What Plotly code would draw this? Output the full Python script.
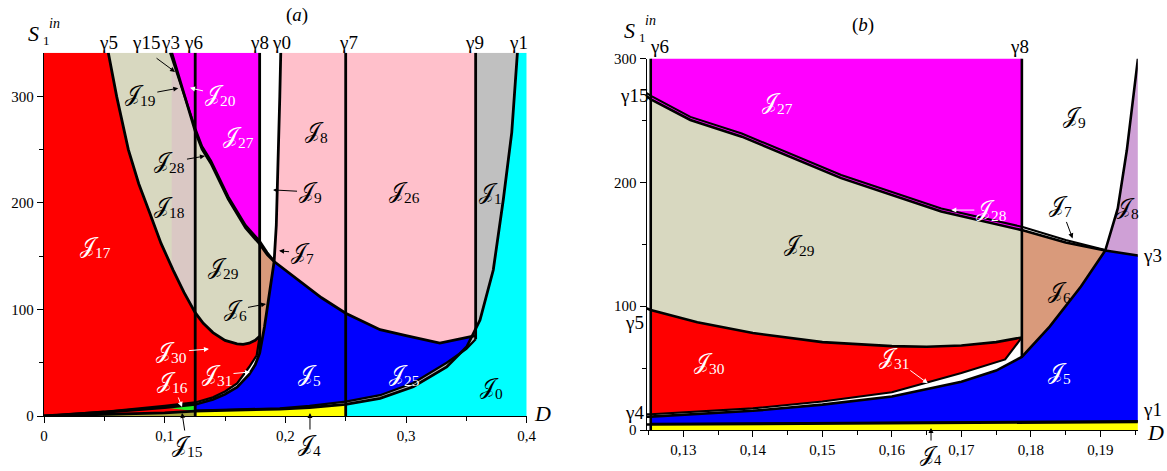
import numpy as np
import plotly.graph_objects as go

# ---------------- data: boundary curves (D, S1in) ----------------
G0_D = [0, 0.05, 0.1, 0.1253, 0.14, 0.15, 0.16, 0.17, 0.175, 0.1787, 0.1827, 0.1872, 0.1896, 0.1907, 0.1925, 0.1938, 0.1954, 0.1962]
G0_S = [0, 3.5, 8, 10.8, 15.5, 20.5, 27, 39, 48, 59, 83.5, 116, 136, 145, 179, 226, 300, 341]

G4_D = [0, 0.05, 0.1, 0.1253, 0.14, 0.15, 0.16, 0.17, 0.1763, 0.1787]
G4_S = [0, 4, 9.5, 12.7, 17.5, 23, 30.5, 46, 57, 74.8]

G1_D = [0, 0.05, 0.1, 0.1253, 0.16, 0.1954, 0.22, 0.25, 0.2785, 0.306, 0.3337, 0.3503, 0.3613, 0.3723, 0.3806, 0.3876, 0.3923]
G1_S = [0, 1.2, 3, 4.5, 5.3, 6.5, 8, 11, 16.6, 27.5, 46, 65, 90, 137, 203, 266, 341]

G2_D = [0.1253, 0.16, 0.1954, 0.22, 0.25, 0.2785, 0.306, 0.3337, 0.35, 0.3577]
G2_S = [5, 5.8, 7.2, 9.5, 13.5, 19.5, 31, 50, 63, 72]

G3_D = [0.1058, 0.116, 0.1254, 0.131, 0.1384, 0.1527, 0.1671, 0.1787, 0.185, 0.1907, 0.1954, 0.21, 0.23, 0.25, 0.2785, 0.3, 0.328, 0.3577]
G3_S = [341, 303, 267, 250.5, 237, 203.5, 176.5, 161.5, 151.5, 145, 141, 128, 111, 96.5, 81, 75.5, 68.5, 75.5]

G15_D = [0.1045, 0.115, 0.1254, 0.131, 0.1384, 0.1527, 0.1671, 0.1787, 0.185, 0.1907]
G15_S = [341, 305, 269.8, 253, 239.6, 206, 179, 164.2, 153.5, 145.5]

G5_D = [0.0533, 0.0602, 0.0699, 0.0785, 0.0878, 0.097, 0.107, 0.116, 0.1253, 0.132, 0.14, 0.15, 0.16, 0.165, 0.17, 0.175, 0.1787]
G5_S = [341, 300, 250, 218, 190, 162, 137, 116, 97, 87, 78.3, 71, 67.8, 67.3, 68.3, 71, 74.8]

# vertical boundaries (D values)
G6 = 0.1253
G7 = 0.25
G8 = 0.1787
G9 = 0.3577
X03 = 0.1907        # gamma0 / gamma3 crossing
J16_START = 0.1

# axes / ticks
XL_TICKS = [0, 0.1, 0.2, 0.3, 0.4]
XL_TEXT = ["0", "0,1", "0,2", "0,3", "0,4"]
XR_TICKS = [0.13, 0.14, 0.15, 0.16, 0.17, 0.18, 0.19]
XR_TEXT = ["0,13", "0,14", "0,15", "0,16", "0,17", "0,18", "0,19"]
Y_TICKS = [0, 100, 200, 300]
Y_TEXT = ["0", "100", "200", "300"]

# ---------------- styles ----------------
W, H = 1167, 471
XL_RANGE = [0, 0.4]
YL_RANGE = [0, 341]
XR_RANGE = [0.12472, 0.19538]
YR_RANGE = [0, 300]
TOP = 341
FONT = "Liberation Serif, DejaVu Serif, serif"
C = dict(red="#ff0000", tan="#d8d8c0", mag="#ff00ff", pink="#ffc0cb", gray="#c0c0c0",
         cyan="#00ffff", blue="#0000ff", yellow="#ffff00", brown="#d99a7b", green="#22ee22",
         purple="#cfa0d6", j19="#dac8c4", olive="#a4a43a")


def seg(D, S, a, b):
    D = np.asarray(D, float); S = np.asarray(S, float)
    m = (D > a) & (D < b)
    xs = [a] + list(D[m]) + [b]
    ys = [float(np.interp(a, D, S))] + list(S[m]) + [float(np.interp(b, D, S))]
    return xs, ys


def rev(p):
    return p[0][::-1], p[1][::-1]


def pt(x, y):
    return [x], [y]


def poly(*pieces):
    xs, ys = [], []
    for px, py in pieces:
        xs += list(px); ys += list(py)
    return xs, ys


def at(D, S, x):
    return float(np.interp(x, D, S))


fig = go.Figure()


def fill(p, color, ax):
    xa, ya = ax
    fig.add_trace(go.Scatter(x=p[0], y=p[1], fill="toself", fillcolor=color, mode="lines",
                             line=dict(width=0), hoverinfo="skip", showlegend=False,
                             xaxis=xa, yaxis=ya))


def line(x, y, ax, w=2.6):
    xa, ya = ax
    fig.add_trace(go.Scatter(x=x, y=y, mode="lines", line=dict(color="black", width=w),
                             hoverinfo="skip", showlegend=False, xaxis=xa, yaxis=ya))


L = ("x", "y")
R = ("x2", "y2")

# ---------- left panel fills ----------
fill(poly(seg(G1_D, G1_S, 0, G6), pt(G6, at(G4_D, G4_S, G6)), seg(G4_D, G4_S, G6, G8),
          rev(seg(G5_D, G5_S, G5_D[0], G8)), pt(0, TOP)), C["red"], L)
fill(poly(pt(0, 0), seg(G1_D, G1_S, 0, G6), pt(G6, 0)), C["olive"], L)
fill(poly(seg(G0_D, G0_S, J16_START, G6), pt(G6, at(G1_D, G1_S, G6))), C["green"], L)
fill(poly(seg(G5_D, G5_S, G5_D[0], G8), pt(G8, at(G3_D, G3_S, G8)),
          rev(seg(G3_D, G3_S, G3_D[0], G8))), C["tan"], L)
fill(poly(seg(G5_D, G5_S, G3_D[0], G6), rev(seg(G3_D, G3_S, G3_D[0], G6))), C["j19"], L)
fill(poly(seg(G3_D, G3_S, G3_D[0], G8), pt(G8, TOP)), C["mag"], L)
fill(poly(pt(G8, at(G0_D, G0_S, G8)), seg(G3_D, G3_S, G8, X03),
          rev(seg(G0_D, G0_S, G8, X03))), C["brown"], L)
fill(poly(seg(G2_D, G2_S, G6, G9), rev(seg(G3_D, G3_S, X03, G9)),
          rev(seg(G0_D, G0_S, G6, X03))), C["blue"], L)
fill(poly(pt(G6, 0), seg(G1_D, G1_S, G6, G7), pt(G7, 0)), C["yellow"], L)
fill(poly(pt(G7, 0), seg(G1_D, G1_S, G7, G1_D[-1]), pt(XL_RANGE[1], TOP), pt(XL_RANGE[1], 0)), C["cyan"], L)
fill(poly(seg(G2_D, G2_S, G7, G9), pt(G9, TOP), rev(seg(G1_D, G1_S, G7, G1_D[-1]))), C["gray"], L)
fill(poly(seg(G0_D, G0_S, X03, G0_D[-1]), pt(G9, TOP), rev(seg(G3_D, G3_S, X03, G9))), C["pink"], L)

# ---------- right panel fills ----------
fill(poly(seg(G4_D, G4_S, G6, G8), rev(seg(G5_D, G5_S, G6, G8))), C["red"], R)
fill(poly(seg(G5_D, G5_S, G6, G8), pt(G8, at(G3_D, G3_S, G8)), rev(seg(G3_D, G3_S, G6, G8))), C["tan"], R)
fill(poly(seg(G3_D, G3_S, G6, G8), pt(G8, TOP), pt(G6, TOP)), C["mag"], R)
fill(poly(pt(G8, at(G0_D, G0_S, G8)), seg(G3_D, G3_S, G8, X03),
          rev(seg(G0_D, G0_S, G8, X03))), C["brown"], R)
fill(poly(seg(G2_D, G2_S, G6, G9), rev(seg(G3_D, G3_S, X03, G9)),
          rev(seg(G0_D, G0_S, G6, X03))), C["blue"], R)
fill(poly(pt(G6, 0), seg(G1_D, G1_S, G6, G7), pt(G7, 0)), C["yellow"], R)
fill(poly(seg(G0_D, G0_S, X03, G0_D[-1]), pt(G9, TOP), rev(seg(G3_D, G3_S, X03, G9))), C["purple"], R)

# ---------- boundary curves ----------
for ax, w in ((L, 2.8), (R, 2.6)):
    line(G0_D, G0_S, ax, w)
    line(G4_D, G4_S, ax, w * 0.8)
    line(G1_D, G1_S, ax, w)
    line(G2_D, G2_S, ax, w * 0.8)
    line(G3_D, G3_S, ax, w)
    line(G15_D, G15_S, ax, w * 0.8)
    line(G5_D, G5_S, ax, w)
    line([G6, G6], [0, TOP], ax, w)
    line([G7, G7], [0, TOP], ax, w)
    line([G8, G8], [at(G0_D, G0_S, G8), TOP], ax, w)
    line([G9, G9], [at(G2_D, G2_S, G9), TOP], ax, w)

# ---------- layout ----------
tickfont = dict(family=FONT, size=15, color="black")
axis_common = dict(showgrid=False, zeroline=False, showline=True, linecolor="black", linewidth=1.4,
                   ticks="outside", ticklen=6, tickwidth=1.2, tickcolor="black", tickfont=tickfont,
                   fixedrange=True, automargin=False)
fig.update_layout(
    width=W, height=H, margin=dict(l=0, r=0, t=0, b=0, pad=0, autoexpand=False),
    paper_bgcolor="white", plot_bgcolor="white", showlegend=False,
    xaxis=dict(domain=[44 / W, 526.7 / W], range=XL_RANGE, anchor="y", tickvals=XL_TICKS, ticktext=XL_TEXT,
               minor=dict(tickvals=[0.05, 0.15, 0.25, 0.35], ticklen=4, ticks="outside", tickcolor="black"),
               **axis_common),
    yaxis=dict(domain=[1 - 416 / H, 1 - 52.7 / H], range=YL_RANGE, anchor="x", tickvals=Y_TICKS, ticktext=Y_TEXT,
               minor=dict(tickvals=[50, 150, 250], ticklen=4, ticks="outside", tickcolor="black"),
               **axis_common),
    xaxis2=dict(domain=[646.7 / W, 1137.8 / W], range=XR_RANGE, anchor="y2", tickvals=XR_TICKS, ticktext=XR_TEXT,
                minor=dict(tickvals=[0.125, 0.135, 0.145, 0.155, 0.165, 0.175, 0.185, 0.195], ticklen=4,
                           ticks="outside", tickcolor="black"),
                **axis_common),
    yaxis2=dict(domain=[1 - 430 / H, 1 - 58.7 / H], range=YR_RANGE, anchor="x2", tickvals=Y_TICKS, ticktext=Y_TEXT,
                minor=dict(tickvals=[50, 150, 250], ticklen=4, ticks="outside", tickcolor="black"),
                **axis_common),
)

J = "\U0001D4A5"
ann = []
JS = 22


def lab(text, x, y, xref, yref, color="black", size=JS, pad=1):
    ann.append(dict(text=text, x=x, y=y, xref=xref, yref=yref, showarrow=False,
                    xanchor="center", yanchor="middle", borderpad=pad,
                    font=dict(family=FONT, size=size, color=color)))


def arr(text, x, y, xref, yref, ax, ay, color="black", size=JS):
    ann.append(dict(text=text, x=x, y=y, xref=xref, yref=yref, showarrow=True, ax=ax, ay=ay,
                    xanchor="center", yanchor="middle",
                    arrowhead=2, arrowsize=1, arrowwidth=1, arrowcolor=color,
                    font=dict(family=FONT, size=size, color=color)))


def Jn(n):
    return J + "<sub>" + str(n) + "</sub>"


# left panel labels
lab(Jn(17), 0.0423, 159, "x", "y", "white")
lab(Jn(18), 0.1044, 196.5, "x", "y")
arr(Jn(19), 0.1113, 307.7, "x", "y", -38, 7)
arr(Jn(20), 0.121, 308, "x", "y", 30, 7, "white")
lab(Jn(27), 0.161, 262, "x", "y", "white")
arr(Jn(28), 0.1334, 244, "x", "y", -35, 6)
lab(Jn(29), 0.1486, 138.7, "x", "y")
lab(Jn(8), 0.226, 267, "x", "y")
arr(Jn(9), 0.1898, 212.2, "x", "y", 37, 2)
lab(Jn(26), 0.299, 210, "x", "y")
lab(Jn(1), 0.3696, 209, "x", "y")
arr(Jn(7), 0.1948, 155, "x", "y", 23, 2)
arr(Jn(6), 0.184, 105.2, "x", "y", -31, 6)
arr(Jn(30), 0.1367, 62.9, "x", "y", -37, 3, "white")
arr(Jn(31), 0.1707, 41.3, "x", "y", -33, 3, "white")
arr(Jn(16), 0.1144, 8.5, "x", "y", -10, -25, "white")
lab(Jn(5), 0.2204, 38.5, "x", "y", "white")
lab(Jn(25), 0.299, 38.5, "x", "y", "white")
lab(Jn(0), 0.371, 26, "x", "y")
arr(Jn(15), 0.1144, 2.8, "x", "y", 5, 33)
arr(Jn(4), 0.2204, 2.8, "x", "y", 0, 32)

# right panel labels
lab(Jn(27), 0.1436, 264, "x2", "y2", "white")
lab(Jn(9), 0.1863, 253, "x2", "y2")
arr(Jn(28), 0.16855, 177.7, "x2", "y2", 40, 0, "white")
arr(Jn(7), 0.1860, 154.8, "x2", "y2", -12, -32)
lab(Jn(8), 0.1939, 179, "x2", "y2")
lab(Jn(29), 0.1467, 149.4, "x2", "y2")
lab(Jn(6), 0.1841, 111.7, "x2", "y2")
lab(Jn(30), 0.1337, 53.9, "x2", "y2", "white")
arr(Jn(31), 0.16517, 37.7, "x2", "y2", -34, -25, "white")
lab(Jn(5), 0.1841, 45.8, "x2", "y2", "white")
arr(Jn(4), 0.16563, 1.6, "x2", "y2", 0, 27, size=21)

# gamma labels, left panel top
GS = 19
ytop_l = 1 - 43 / H
for t, x in (("γ5", 0.0533), ("γ15", 0.0848), ("γ3", 0.1051), ("γ6", 0.1238), ("γ8", 0.1789),
             ("γ0", 0.1970), ("γ7", 0.2520), ("γ9", 0.3566), ("γ1", 0.3930)):
    lab(t, x, ytop_l, "x", "paper", size=GS)
arr(" ", 0.1086, 323, "x", "y", -23, -17)
# gamma labels, right panel
ytop_r = 1 - 46.7 / H
lab("γ6", 0.1265, ytop_r, "x2", "paper", size=GS)
lab("γ8", 0.1784, ytop_r, "x2", "paper", size=GS)
lab("γ0", 0.1956, ytop_r, "x2", "paper", size=GS)
for t, y in (("γ15", 270), ("γ5", 86.5), ("γ4", 14)):
    lab(t, 634 / W, y, "paper", "y2", size=GS)
lab("γ3", 1152 / W, 141, "paper", "y2", size=GS)
lab("γ1", 1152 / W, 16.5, "paper", "y2", size=GS)

# axis titles and panel tags
lab("<i>D</i>", 542.5 / W, 1 - 413 / H, "paper", "paper", size=22)
lab("<i>D</i>", 1155 / W, 1 - 432 / H, "paper", "paper", size=22)
for sx, sy in ((33, 34), (629, 31)):
    lab("<i>S</i>", sx / W, 1 - sy / H, "paper", "paper", size=22, pad=0)
    lab("1", (sx + 13) / W, 1 - (sy + 7) / H, "paper", "paper", size=13, pad=0)
    lab("<i>in</i>", (sx + 21) / W, 1 - (sy - 10) / H, "paper", "paper", size=14, pad=0)
lab("(<i>a</i>)", 297 / W, 1 - 15 / H, "paper", "paper", size=19)
lab("(<i>b</i>)", 863 / W, 1 - 25 / H, "paper", "paper", size=19)

fig.update_layout(annotations=ann)
fig.write_html("out.html")
